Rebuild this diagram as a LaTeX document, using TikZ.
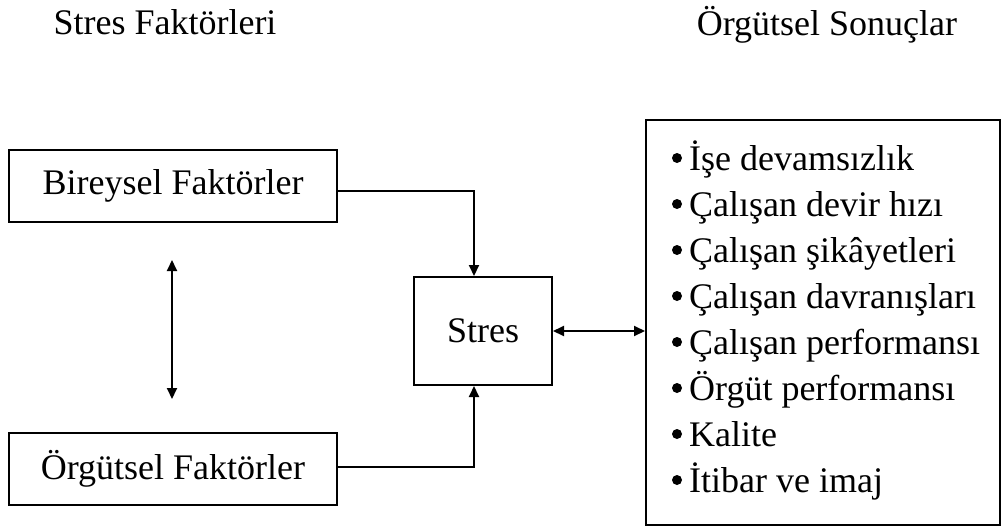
\documentclass[tikz,border=0pt]{standalone}
\usepackage{fontspec}
\setmainfont{Liberation Serif}
\usetikzlibrary{arrows.meta}
\begin{document}
\begin{tikzpicture}[x=1pt,y=-1pt,
  font=\fontsize{36}{43}\selectfont,
  box/.style={draw, line width=2pt, inner sep=0pt},
  txt/.style={inner sep=0pt},
  dot/.style={circle, fill, inner sep=0pt, minimum size=10pt},
  arr/.style={line width=2pt, -{Triangle[length=11pt,width=10pt]}},
  arrboth/.style={line width=2pt, {Triangle[length=11pt,width=10pt]}-{Triangle[length=11pt,width=10pt]}}]
\useasboundingbox (0,0) rectangle (1003,530);

% column titles
\node[txt, anchor=base] (t1) at (165,34) {Stres Faktörleri};
\node[txt, anchor=base] (t2) at (827,35) {Örgütsel Sonuçlar};

% stress factor boxes
\node[box, minimum width=328pt, minimum height=72pt] (bir) at (173,186) {Bireysel Faktörler};
\node[box, minimum width=328pt, minimum height=72pt] (org) at (173,469) {Örgütsel Faktörler};

% central stress box
\node[box, minimum width=138pt, minimum height=108pt] (stres) at (483,331) {Stres};

% organisational outcomes box
\node[box, minimum width=354pt, minimum height=405pt] (out) at (823,322.5) {};

% outcome items, each with a round bullet
\foreach \y/\t [count=\i] in {170/İşe devamsızlık, 216/Çalışan devir hızı, 262/Çalışan şikâyetleri,
    308/Çalışan davranışları, 354/Çalışan performansı, 400/Örgüt performansı,
    446/Kalite, 492/İtibar ve imaj} {
  \node[dot] (b\i) at (677,\y-12) {};
  \node[txt, anchor=base west] (i\i) at (689,\y) {\t};
}

% connectors
\draw[arr] ([yshift=-5pt]bir.east) -| ([xshift=-9pt]stres.north);
\draw[arr] ([yshift=2pt]org.east) -| ([xshift=-9pt]stres.south);
\draw[arrboth] (stres.east) -- (stres.east -| out.west);
\draw[arrboth, shorten <=37pt, shorten >=33pt] ([xshift=-1pt]bir.south) -- ([xshift=-1pt]org.north);
\end{tikzpicture}
\end{document}
